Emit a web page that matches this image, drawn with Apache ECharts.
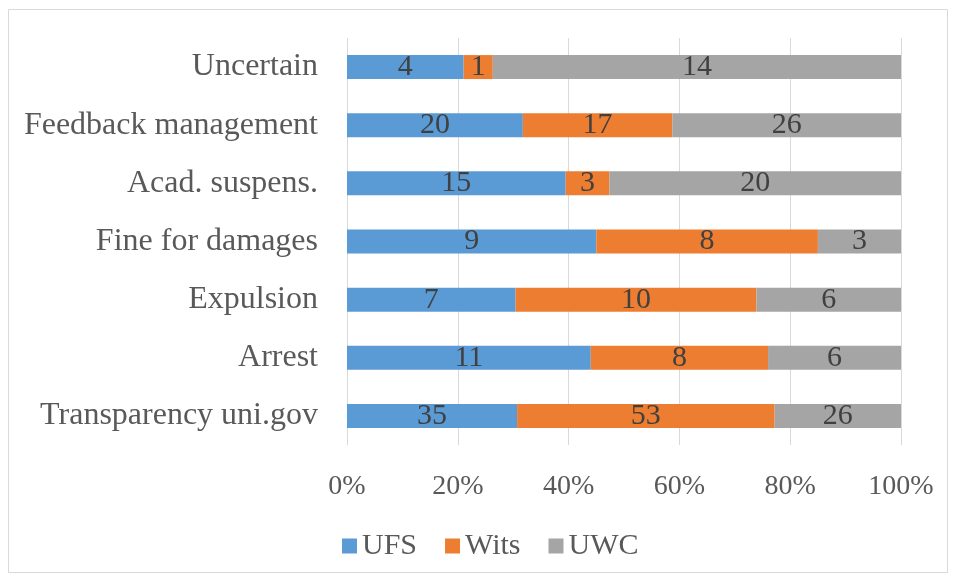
<!DOCTYPE html>
<html>
<head>
<meta charset="utf-8">
<script src="https://cdn.jsdelivr.net/npm/echarts@6/dist/echarts.min.js"></script>
<style>
    html, body { margin: 0; padding: 0; background: #fff; }
    #main { width: 956px; height: 581px; }
</style>
</head>
<body>
<div id="main"></div>
<script>
    // categories, bottom to top
    var categories = ['Transparency uni.gov', 'Arrest', 'Expulsion', 'Fine for damages', 'Acad. suspens.', 'Feedback management', 'Uncertain'];
    var ufs = [35, 11, 7, 9, 15, 20, 4];
    var wits = [53, 8, 10, 8, 3, 17, 1];
    var uwc = [26, 6, 6, 3, 20, 26, 14];
    var seriesNames = ['UFS', 'Wits', 'UWC'];
    var colors = ['#5B9BD5', '#ED7D31', '#A5A5A5'];

    var raw = [ufs, wits, uwc];
    var totals = categories.map(function (c, i) { return ufs[i] + wits[i] + uwc[i]; });

    var chartDom = document.getElementById('main');
    var myChart = echarts.init(chartDom);
    var font = '"Liberation Serif", "Times New Roman", serif';

    var series = raw.map(function (arr, k) {
        return {
            name: seriesNames[k],
            type: 'bar',
            stack: 'total',
            barWidth: 24,
            itemStyle: { color: colors[k] },
            label: {
                show: true,
                position: 'inside',
                color: '#404040',
                fontFamily: font,
                fontSize: 30,
                formatter: function (p) { return arr[p.dataIndex]; }
            },
            data: arr.map(function (v, i) { return v / totals[i] * 100; })
        };
    });

    var option = {
        animation: false,
        textStyle: { fontFamily: font },
        color: colors,
        graphic: [{
            type: 'rect',
            shape: { x: 8.5, y: 9.5, width: 939, height: 563 },
            style: { fill: 'none', stroke: '#d9d9d9', lineWidth: 1 },
            silent: true
        }],
        grid: { left: 347, right: 55, top: 38, bottom: 136 },
        legend: {
            left: 337,
            top: 526,
            itemWidth: 15,
            itemHeight: 15,
            itemGap: 28,
            icon: 'rect',
            textStyle: { color: '#595959', fontSize: 30, fontFamily: font },
            data: seriesNames
        },
        xAxis: {
            type: 'value',
            min: 0,
            max: 100,
            interval: 20,
            axisLine: { show: false },
            axisTick: { show: false },
            axisLabel: {
                color: '#595959',
                fontSize: 28,
                fontFamily: font,
                margin: 28,
                formatter: '{value}%'
            },
            splitLine: { lineStyle: { color: '#d9d9d9', width: 1 } }
        },
        yAxis: {
            type: 'category',
            data: categories,
            axisLine: { show: false },
            axisTick: { show: false },
            axisLabel: {
                color: '#595959',
                fontSize: 32,
                fontFamily: font,
                margin: 29
            }
        },
        series: series
    };

    myChart.setOption(option);
</script>
</body>
</html>
